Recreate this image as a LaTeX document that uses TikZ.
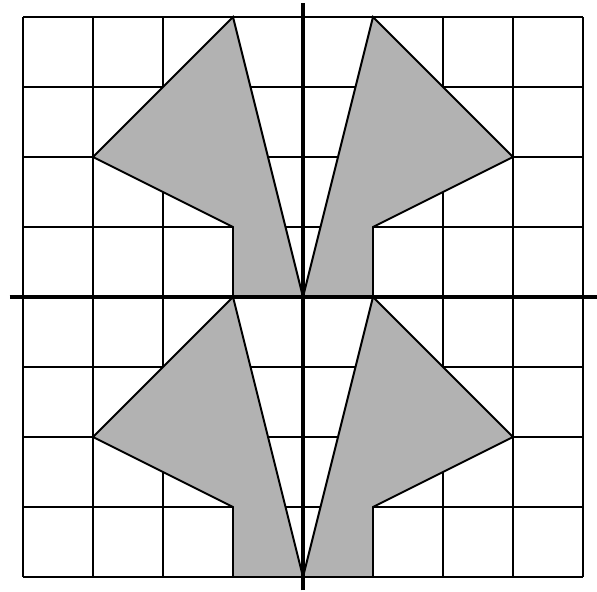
\documentclass[tikz,border=0pt]{standalone}
\usepackage{tikz}

\begin{document}
\begin{tikzpicture}[
  gridline/.style={line width=0.8pt},
  axis/.style={line width=2pt},
  piece/.style={fill=black!30, draw=black, line width=0.8pt, line join=miter}
]
\useasboundingbox (-4.329,-4.214) rectangle (4.2,4.243);

% Grid
\draw[gridline] (-4,-4) grid (4,4);

% Upper pieces
\draw[piece] (0,0) -- (-1,4) -- (-3,2) -- (-1,1) -- (-1,0) -- cycle;
\draw[piece] (0,0) -- (1,4) -- (3,2) -- (1,1) -- (1,0) -- cycle;

% Lower pieces
\draw[piece] (0,-4) -- (-1,0) -- (-3,-2) -- (-1,-3) -- (-1,-4) -- cycle;
\draw[piece] (0,-4) -- (1,0) -- (3,-2) -- (1,-3) -- (1,-4) -- cycle;

% Axes
\draw[axis] (-4.19,0) -- (4.2,0);
\draw[axis] (0,-4.19) -- (0,4.2);

\end{tikzpicture}
\end{document}
